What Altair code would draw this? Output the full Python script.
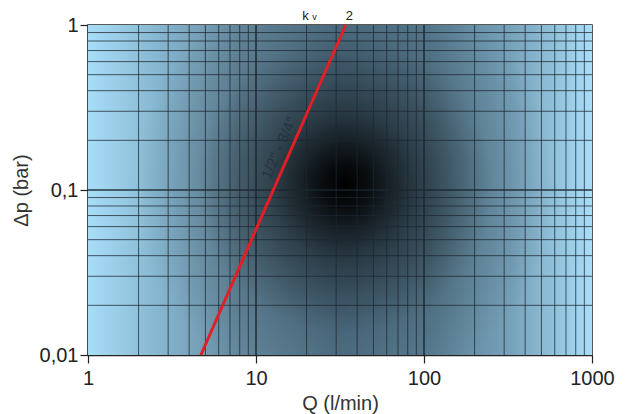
import altair as alt
import pandas as pd

# ---- data ----
q_ticks = [1, 10, 100, 1000]
dp_ticks = [0.01, 0.1, 1]
q_minor = [2, 3, 4, 5, 6, 7, 8, 9, 20, 30, 40, 50, 60, 70, 80, 90,
           200, 300, 400, 500, 600, 700, 800, 900]
q_major = [10, 100]
dp_minor = [0.02, 0.03, 0.04, 0.05, 0.06, 0.07, 0.08, 0.09,
            0.2, 0.3, 0.4, 0.5, 0.6, 0.7, 0.8, 0.9]
dp_major = [0.1]
line_q = [4.7, 34.2]
line_dp = [0.01, 1.0]
line_label = ['1/2" - 3/4"']
kv_value = ["2"]

W, H = 504, 330
FONT = "Liberation Sans"

xs = alt.Scale(type="log", domain=[1, 1000], nice=False)
ys = alt.Scale(type="log", domain=[0.01, 1], nice=False)

x_axis = alt.Axis(values=q_ticks, grid=False, title="Q (l/min)", format="~g",
                  tickSize=8, tickColor="#222", tickWidth=1.2,
                  domainColor="#222", domainWidth=1.5, labelFlush=False,
                  labelFont=FONT, labelFontSize=20, labelColor="#222", labelPadding=5,
                  titleFont=FONT, titleFontSize=20, titleFontWeight="normal",
                  titleColor="#333", titlePadding=5)
y_axis = alt.Axis(values=dp_ticks, grid=False, title="\u0394p (bar)", format="~g",
                  labelExpr="replace(datum.label, '.', ',')",
                  tickSize=8, tickColor="#222", tickWidth=1.2,
                  domainColor="#222", domainWidth=1.5, labelFlush=False,
                  labelFont=FONT, labelFontSize=20, labelColor="#222", labelPadding=2,
                  titleFont=FONT, titleFontSize=20, titleFontWeight="normal",
                  titleColor="#333", titlePadding=8)

one = pd.DataFrame({"a": [0]})

bg_h = alt.LinearGradient(
    gradient="linear", x1=0, y1=0, x2=1, y2=0,
    stops=[
        alt.GradientStop(color="#a8ddf8", offset=0.0),
        alt.GradientStop(color="#86b6cf", offset=0.14),
        alt.GradientStop(color="#668a9f", offset=0.3),
        alt.GradientStop(color="#52748a", offset=0.5),
        alt.GradientStop(color="#5a7e93", offset=0.68),
        alt.GradientStop(color="#77a2ba", offset=0.84),
        alt.GradientStop(color="#a8ddf8", offset=1.0),
    ])
bg_r = alt.RadialGradient(
    gradient="radial", x1=0.51, y1=0.49, r1=0, x2=0.51, y2=0.49, r2=0.42,
    stops=[
        alt.GradientStop(color="rgba(0,0,0,1)", offset=0.0),
        alt.GradientStop(color="rgba(0,0,0,0.9)", offset=0.1),
        alt.GradientStop(color="rgba(0,0,0,0.5)", offset=0.35),
        alt.GradientStop(color="rgba(0,0,0,0.12)", offset=0.7),
        alt.GradientStop(color="rgba(0,0,0,0)", offset=1.0),
    ])

bg1 = alt.Chart(one).mark_rect(fill=bg_h).encode(
    x=alt.value(0), x2=alt.value(W), y=alt.value(0), y2=alt.value(H))
bg2 = alt.Chart(one).mark_rect(fill=bg_r).encode(
    x=alt.value(0), x2=alt.value(W), y=alt.value(0), y2=alt.value(H))

gx_minor = alt.Chart(pd.DataFrame({"q": q_minor})).mark_rule(
    color="#1c2730", strokeWidth=1, opacity=0.75).encode(
    x=alt.X("q:Q", scale=xs, axis=x_axis))
gx_major = alt.Chart(pd.DataFrame({"q": q_major})).mark_rule(
    color="#1c2730", strokeWidth=1.6, opacity=0.9).encode(
    x=alt.X("q:Q", scale=xs, axis=x_axis))
gy_minor = alt.Chart(pd.DataFrame({"dp": dp_minor})).mark_rule(
    color="#1c2730", strokeWidth=1, opacity=0.75).encode(
    y=alt.Y("dp:Q", scale=ys, axis=y_axis))
gy_major = alt.Chart(pd.DataFrame({"dp": dp_major})).mark_rule(
    color="#1c2730", strokeWidth=1.6, opacity=0.9).encode(
    y=alt.Y("dp:Q", scale=ys, axis=y_axis))

line = alt.Chart(pd.DataFrame({"q": line_q, "dp": line_dp})).mark_line(
    color="#e11f26", strokeWidth=3).encode(
    x=alt.X("q:Q", scale=xs, axis=x_axis),
    y=alt.Y("dp:Q", scale=ys, axis=y_axis))

lbl = alt.Chart(pd.DataFrame({"q": [13.7], "dp": [0.18], "t": line_label})).mark_text(
    font=FONT, fontSize=15, color="#26323a", opacity=0.9, angle=294,
    align="center", baseline="middle").encode(
    x=alt.X("q:Q", scale=xs, axis=x_axis),
    y=alt.Y("dp:Q", scale=ys, axis=y_axis),
    text="t:N")

k_txt = alt.Chart(pd.DataFrame({"q": [19.7], "t": ["k"]})).mark_text(
    font=FONT, fontSize=13, color="#222", baseline="alphabetic", align="center").encode(
    x=alt.X("q:Q", scale=xs, axis=x_axis), y=alt.value(-5), text="t:N")
v_txt = alt.Chart(pd.DataFrame({"q": [22.3], "t": ["v"]})).mark_text(
    font=FONT, fontSize=9, color="#222", baseline="alphabetic", align="center").encode(
    x=alt.X("q:Q", scale=xs, axis=x_axis), y=alt.value(-5), text="t:N")
two_txt = alt.Chart(pd.DataFrame({"q": [36.0], "t": kv_value})).mark_text(
    font=FONT, fontSize=13, color="#222", baseline="alphabetic", align="center").encode(
    x=alt.X("q:Q", scale=xs, axis=x_axis), y=alt.value(-5), text="t:N")

chart = alt.layer(
    bg1, bg2, gx_minor, gx_major, gy_minor, gy_major, line, lbl, k_txt, v_txt, two_txt
).properties(
    width=W, height=H,
    autosize=alt.AutoSizeParams(type="none"),
    padding={"left": 80, "top": 17, "right": 30, "bottom": 60},
).configure_view(
    stroke="#222", strokeWidth=1.5
)

chart.save("out.html", embed_options={"renderer": "svg", "actions": False})
